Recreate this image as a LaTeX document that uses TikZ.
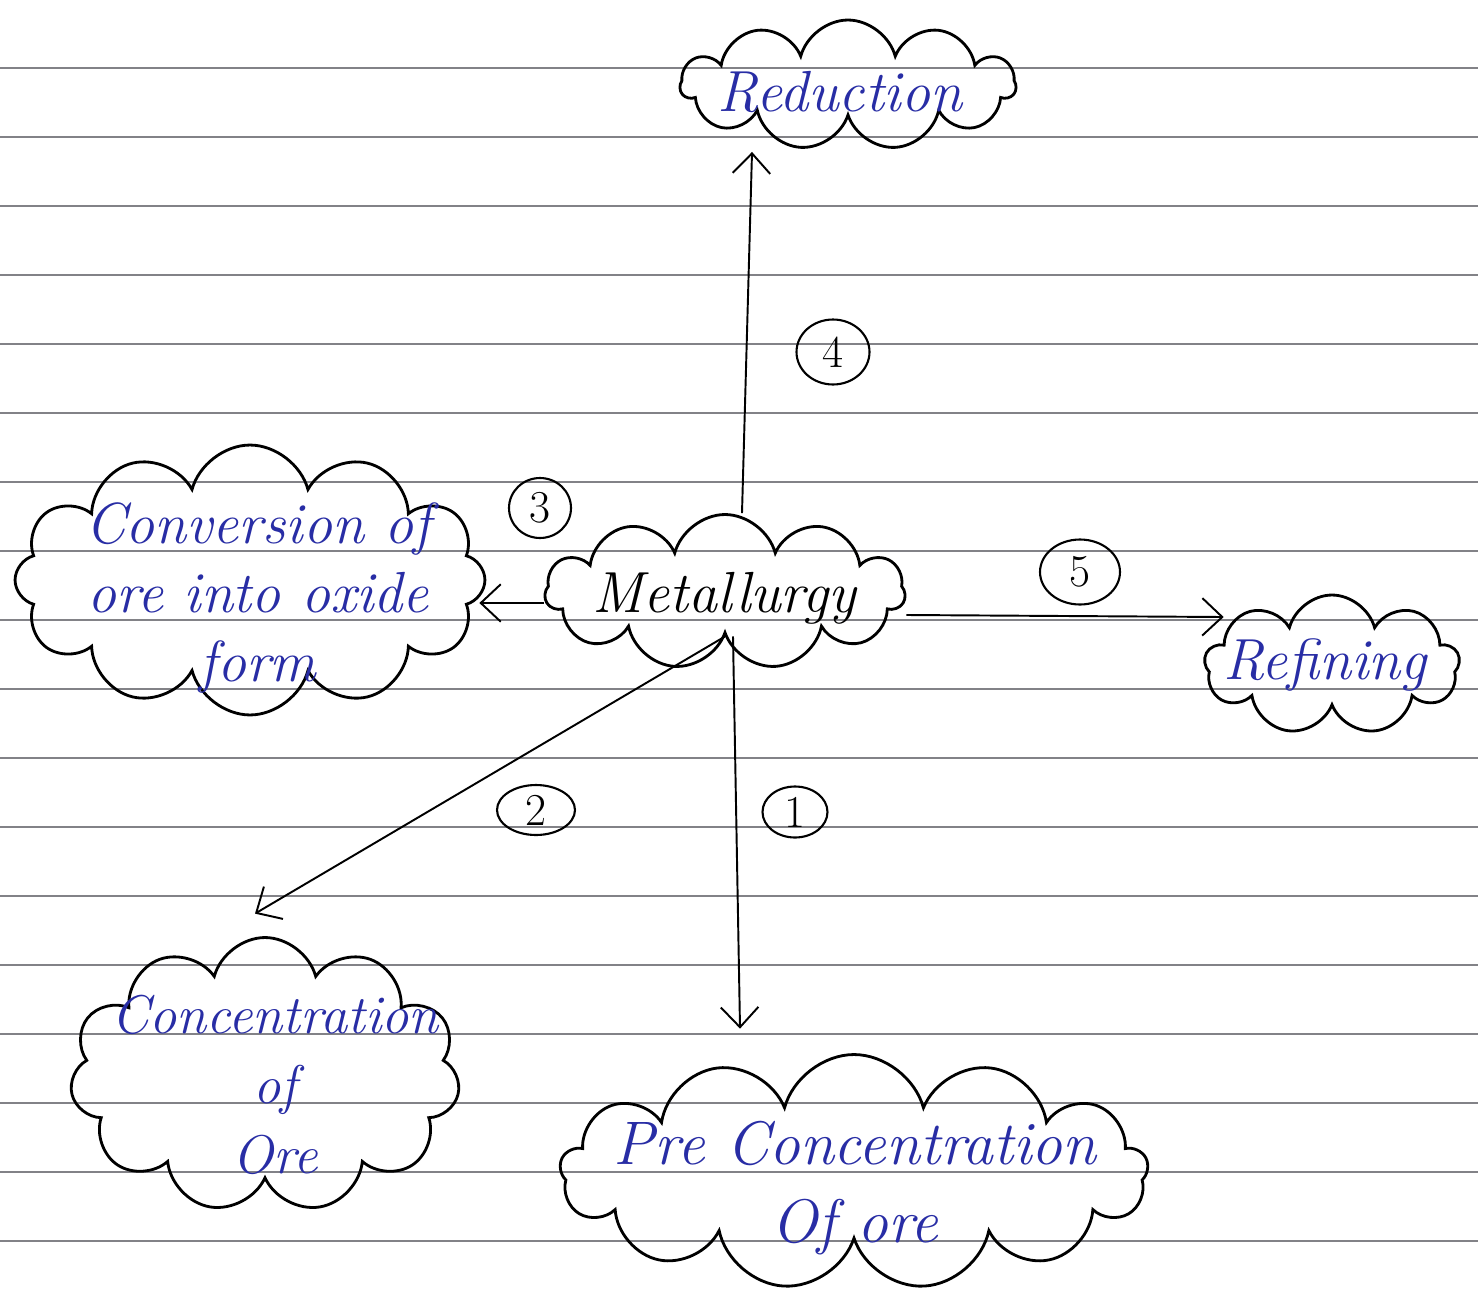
\documentclass[tikz,border=0pt]{standalone}
\usepackage{fontspec}
\usetikzlibrary{shapes.symbols,shapes.geometric,arrows.meta,calc}
\definecolor{handblue}{RGB}{40,45,165}
\definecolor{ruleline}{RGB}{130,130,135}
\begin{document}
\begin{tikzpicture}[x=0.02cm,y=-0.02cm,
  cloudbox/.style={cloud, cloud puffs=#1, cloud ignores aspect, draw=black, line width=1.6pt, inner sep=0pt},
  label/.style={text=handblue, align=center, font=\fontsize{33}{39}\selectfont\itshape},
  numcirc/.style={ellipse, draw=black, line width=1.2pt, inner sep=0pt, font=\fontsize{26}{30}\selectfont},
  conn/.style={draw=black, line width=1.1pt, -{Straight Barb[length=0.4cm,width=0.75cm,line width=1.1pt]}}]
\useasboundingbox[fill=white] (0,0) rectangle (1478,1295);
% ruled paper
\foreach \k in {0,...,17}{
  \draw[ruleline, line width=0.8pt] (0,{68+69*\k}) -- (1478,{68+69*\k});
}
% clouds
\node[cloudbox=11, minimum width=6.7cm, minimum height=2.6cm] (red) at (848,85) {};
\node[cloudbox=12, minimum width=9.4cm, minimum height=5.4cm] (conv) at (250,580) {};
\node[cloudbox=11, minimum width=7.2cm, minimum height=3.1cm] (met) at (725,592) {};
\node[cloudbox=9, minimum width=5.1cm, minimum height=2.8cm] (ref) at (1332,665) {};
\node[cloudbox=11, minimum width=7.8cm, minimum height=5.5cm] (conc) at (265,1075) {};
\node[cloudbox=13, minimum width=11.76cm, minimum height=4.7cm] (pre) at (854,1172) {};
% texts
\node[label] (redt) at (840,92) {Reduction};
\node[label] (convt) at (258,598) {Conversion of\\ ore into oxide\\ form};
\node[label, text=black] (mett) at (724,598) {Metallurgy};
\node[label] (reft) at (1325,665) {Refining};
\node[label, font=\fontsize{31}{40}\selectfont\itshape] (conct) at (275,1085) {Concentration\\ of\\ Ore};
\node[label, font=\fontsize{35}{44}\selectfont\itshape] (pret) at (855,1188) {Pre Concentration\\ Of ore};
% numbers
\node[numcirc, minimum width=1.46cm, minimum height=1.3cm] (n4) at (833,352) {4};
\node[numcirc, minimum width=1.24cm, minimum height=1.2cm] (n3) at (540,508) {3};
\node[numcirc, minimum width=1.6cm, minimum height=1.3cm] (n5) at (1080,572) {5};
\node[numcirc, minimum width=1.56cm, minimum height=1.0cm] (n2) at (536,810) {2};
\node[numcirc, minimum width=1.3cm, minimum height=1.02cm] (n1) at (795,812) {1};
% connectors
\draw[conn] ([xshift=0.34cm]met.north) -- ([xshift=-1.92cm,yshift=-0.66cm]red.south);
\draw[conn] ([yshift=-0.22cm]met.west) -- ([xshift=-0.14cm,yshift=-0.46cm]conv.east);
\draw[conn] ([yshift=-0.46cm]met.east) -- ([xshift=0.4cm,yshift=0.96cm]ref.west);
\draw[conn] (met.south) -- ([xshift=-0.2cm,yshift=0.45cm]conc.north);
\draw[conn] ([xshift=0.16cm]met.south) -- ([xshift=-2.28cm,yshift=0.49cm]pre.north);
\end{tikzpicture}
\end{document}
